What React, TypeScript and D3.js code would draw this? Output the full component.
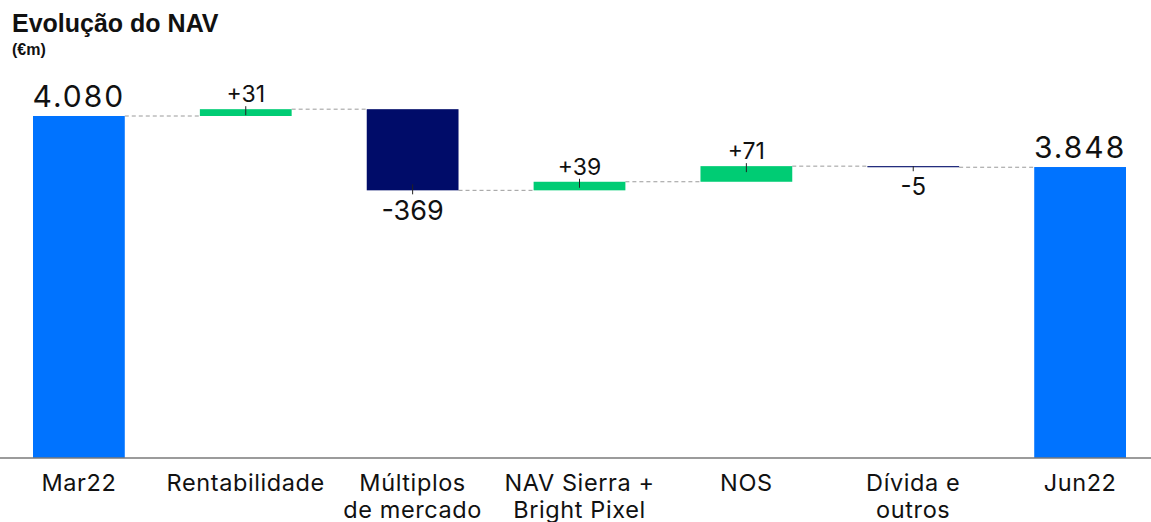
import React from 'react';
import * as d3 from 'd3';

// ==== data

const categories = ['Mar22', 'Rentabilidade', 'Múltiplos\nde mercado', 'NAV Sierra +\nBright Pixel', 'NOS', 'Dívida e\noutros', 'Jun22'];
const values = [4080, 31, -369, 39, 71, -5, 3848];
const isTotal = [true, false, false, false, false, false, true];
const valueLabels = ['4.080', '+31', '-369', '+39', '+71', '-5', '3.848'];

// ====

const WIDTH = 1151;
const HEIGHT = 522;
const FONT = 'Inter, "Liberation Sans", Arial, sans-serif';

const COLORS = {
    total: '#0073ff',
    up: '#00cc74',
    down: '#000c69',
    connector: '#9a9a9a',
    axis: '#7a7a7a',
    text: '#111111'
};

type Step = {
    label: string;
    text: string;
    start: number;
    end: number;
    total: boolean;
    value: number;
};

function buildSteps(): Step[] {
    let running = 0;
    return categories.map((label, i) => {
        let start = running;
        let end;
        if (isTotal[i]) {
            start = 0;
            end = values[i];
        } else {
            end = running + values[i];
        }
        running = end;
        return { label, text: valueLabels[i], start, end, total: isTotal[i], value: values[i] };
    });
}

export default function App() {
    const steps = buildSteps();

    const x = d3.scaleBand<string>()
        .domain(categories)
        .range([33, 1126])
        .paddingInner(0.45)
        .paddingOuter(0);

    const baseY = 458;
    const y = d3.scaleLinear().domain([2525, 4080]).range([baseY, 116]);

    const bw = x.bandwidth();

    const barTop = (s: Step) => s.total ? y(s.end) : y(Math.max(s.start, s.end));
    const barBottom = (s: Step) => s.total ? baseY : y(Math.min(s.start, s.end));

    return (
        <svg width={WIDTH} height={HEIGHT} style={{ position: 'absolute', left: 0, top: 0, background: '#fff' }}
            fontFamily={FONT}>
            <text x={12} y={32} fontSize={25} fontWeight={700} fill={COLORS.text}
                fontFamily='"Liberation Sans", Arial, sans-serif'>Evolução do NAV</text>
            <text x={12} y={55} fontSize={16} fontWeight={700} fill={COLORS.text}
                fontFamily='"Liberation Sans", Arial, sans-serif'>(€m)</text>

            {/* connectors */}
            {steps.slice(0, -1).map((s, i) => {
                const x1 = (x(s.label) as number) + bw;
                const x2 = x(steps[i + 1].label) as number;
                const level = y(s.end);
                return (
                    <line key={'c' + i} x1={x1} x2={x2} y1={level} y2={level}
                        stroke={COLORS.connector} strokeWidth={1} strokeDasharray="4,3" />
                );
            })}

            {/* bars */}
            {steps.map((s, i) => {
                const x0 = x(s.label) as number;
                const top = barTop(s);
                const bottom = barBottom(s);
                const fill = s.total ? COLORS.total : (s.value >= 0 ? COLORS.up : COLORS.down);
                return (
                    <rect key={'b' + i} x={x0} y={top} width={bw} height={Math.max(bottom - top, 1)} fill={fill} />
                );
            })}

            {/* ticks on delta bars */}
            {steps.map((s, i) => {
                if (s.total) return null;
                const cx = (x(s.label) as number) + bw / 2;
                const h = barBottom(s) - barTop(s);
                const inside = Math.min(6, h);
                const edge = s.value >= 0 ? barTop(s) : barBottom(s);
                const y1 = s.value >= 0 ? edge - 3 : edge - inside;
                const y2 = s.value >= 0 ? edge + inside : edge + 4;
                return <line key={'t' + i} x1={cx} x2={cx} y1={y1} y2={y2} stroke="#222" strokeWidth={1} />;
            })}

            {/* value labels */}
            {steps.map((s, i) => {
                const cx = (x(s.label) as number) + bw / 2;
                if (s.total) {
                    return (
                        <text key={'v' + i} x={cx} y={barTop(s) - 9} textAnchor="middle"
                            fontSize={30} letterSpacing={2} fill={COLORS.text}>{s.text}</text>
                    );
                }
                const big = Math.abs(s.value) > 100;
                if (s.value >= 0) {
                    return (
                        <text key={'v' + i} x={cx} y={barTop(s) - 7} textAnchor="middle"
                            fontSize={23} fill={COLORS.text}>{s.text}</text>
                    );
                }
                return (
                    <text key={'v' + i} x={cx} y={barBottom(s) + (big ? 30 : 28)} textAnchor="middle"
                        fontSize={big ? 27 : 24} fill={COLORS.text}>{s.text}</text>
                );
            })}

            {/* axis */}
            <line x1={0} x2={WIDTH} y1={baseY} y2={baseY} stroke={COLORS.axis} strokeWidth={1.5} />
            {steps.map((s, i) => {
                const cx = (x(s.label) as number) + bw / 2;
                const lines = s.label.split('\n');
                return (
                    <text key={'a' + i} x={cx} y={491} textAnchor="middle" fontSize={23.5}
                        letterSpacing={0.6} fill={COLORS.text}>
                        {lines.map((l, j) => (
                            <tspan key={j} x={cx} dy={j === 0 ? 0 : 27}>{l}</tspan>
                        ))}
                    </text>
                );
            })}
        </svg>
    );
}
